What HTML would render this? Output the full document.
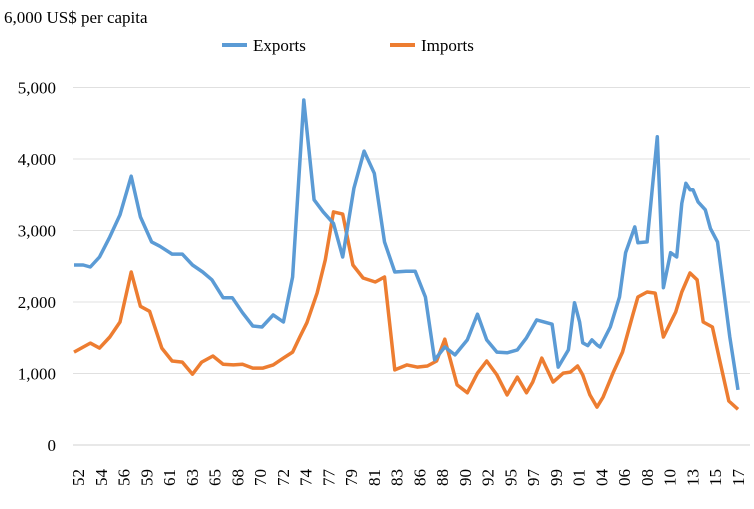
<!DOCTYPE html>
<html><head><meta charset="utf-8"><style>
html,body{margin:0;padding:0;background:#fff;width:754px;height:509px;overflow:hidden}
svg text{font-family:"Liberation Serif",serif;fill:#000}
</style></head><body>
<svg id="chart" width="754" height="509" xmlns="http://www.w3.org/2000/svg">
<text x="4" y="23" font-size="17">6,000 US$ per capita</text>
<g>
<line x1="222" y1="45" x2="247" y2="45" stroke="#5b9bd5" stroke-width="4"/>
<text x="253" y="51" font-size="17">Exports</text>
<line x1="390" y1="45" x2="415" y2="45" stroke="#ed7d31" stroke-width="4"/>
<text x="421" y="51" font-size="17">Imports</text>
</g>
<g id="grid"></g><g id="series"></g><g id="xlabels"></g>
</svg>
<script>
const yTicks=[0,1000,2000,3000,4000,5000];
const yTickLabels=["0","1,000","2,000","3,000","4,000","5,000"];
const xLabels=["52","54","56","59","61","63","65","68","70","72","74","77","79","81","83","86","88","90","92","95","97","99","01","04","06","08","10","13","15","17"];
const exportYears=[1952.0,1952.9,1953.6,1954.5,1955.5,1956.5,1957.6,1958.5,1959.6,1960.4,1961.6,1962.6,1963.6,1964.6,1965.5,1966.6,1967.5,1968.5,1969.5,1970.4,1971.5,1972.5,1973.4,1974.5,1975.5,1976.4,1977.4,1978.3,1979.4,1980.4,1981.4,1982.4,1983.4,1984.5,1985.4,1986.4,1987.3,1988.3,1989.3,1990.5,1991.5,1992.4,1993.4,1994.4,1995.4,1996.3,1997.3,1998.8,1999.4,2000.4,2001.0,2001.5,2001.8,2002.3,2002.7,2003.2,2003.5,2004.5,2005.4,2006.0,2006.9,2007.2,2008.1,2009.1,2009.7,2010.4,2011.0,2011.5,2011.9,2012.3,2012.6,2013.1,2013.8,2014.3,2015.0,2016.2,2017.0];
const exportValues=[2517,2517,2490,2630,2910,3220,3760,3190,2840,2780,2670,2670,2517,2420,2310,2060,2060,1850,1665,1650,1820,1720,2350,4825,3430,3260,3100,2630,3590,4110,3800,2840,2420,2430,2430,2070,1190,1370,1260,1470,1830,1470,1300,1290,1330,1500,1750,1690,1090,1330,1990,1720,1430,1390,1470,1400,1370,1650,2070,2690,3050,2830,2840,4310,2200,2690,2630,3380,3660,3570,3570,3400,3290,3030,2840,1510,770,640];
const importYears=[1952.0,1953.6,1954.5,1955.5,1956.5,1957.6,1958.5,1959.4,1960.6,1961.6,1962.6,1963.6,1964.5,1965.6,1966.6,1967.6,1968.5,1969.5,1970.5,1971.5,1972.5,1973.4,1974.1,1974.8,1975.8,1976.6,1977.4,1978.3,1979.3,1980.3,1981.5,1982.4,1983.4,1984.6,1985.6,1986.6,1987.5,1988.3,1989.5,1990.5,1991.5,1992.4,1993.4,1994.4,1995.4,1996.3,1996.9,1997.8,1998.9,1999.9,2000.6,2001.3,2001.8,2002.5,2003.2,2003.8,2004.8,2005.7,2006.7,2007.2,2008.1,2008.9,2009.7,2010.9,2011.5,2012.3,2013.0,2013.6,2014.5,2015.2,2016.1,2017.0];
const importValues=[1300,1425,1355,1510,1720,2420,1940,1870,1355,1175,1160,990,1160,1245,1130,1120,1130,1075,1075,1120,1215,1300,1510,1710,2125,2590,3260,3230,2517,2335,2280,2350,1050,1120,1090,1105,1175,1480,840,730,1005,1175,980,700,950,730,880,1215,880,1005,1020,1105,980,700,530,670,1020,1300,1820,2070,2140,2125,1510,1860,2140,2405,2310,1720,1650,1190,615,500];

const NS="http://www.w3.org/2000/svg";
const yScale=v=>445-v*0.0715;
const xScale=yr=>74+(yr-1952)*10.215;
const grid=document.getElementById('grid');
yTicks.forEach((t,i)=>{
  const l=document.createElementNS(NS,'line');
  l.setAttribute('x1',73);l.setAttribute('x2',750);
  l.setAttribute('y1',yScale(t));l.setAttribute('y2',yScale(t));
  l.setAttribute('stroke',i===0?'#d0d0d0':'#e0e0e0');l.setAttribute('stroke-width',1);
  
  
  grid.appendChild(l);
  const tx=document.createElementNS(NS,'text');
  tx.setAttribute('x',56);tx.setAttribute('y',yScale(t)+6);
  tx.setAttribute('text-anchor','end');tx.setAttribute('font-size','17');
  tx.textContent=yTickLabels[i];
  
  
  grid.appendChild(tx);
});
function drawLine(xs,vs,color,name){
  const p=document.createElementNS(NS,'polyline');
  p.setAttribute('points',xs.map((x,i)=>xScale(x).toFixed(1)+','+yScale(vs[i]).toFixed(1)).join(' '));
  p.setAttribute('fill','none');p.setAttribute('stroke',color);p.setAttribute('stroke-width','3.5');
  p.setAttribute('stroke-linejoin','round');
  
  
  document.getElementById('series').appendChild(p);
}
drawLine(importYears,importValues,'#ed7d31','imports-line');
drawLine(exportYears,exportValues,'#5b9bd5','exports-line');
const xl=document.getElementById('xlabels');
xLabels.forEach((s,i)=>{
  const x=78+i*(660/29);
  const t=document.createElementNS(NS,'text');
  t.setAttribute('transform','translate('+(x+6)+',486) rotate(-90)');
  t.setAttribute('font-size','17');
  t.textContent=s;
  
  
  xl.appendChild(t);
});
</script>
</body></html>
